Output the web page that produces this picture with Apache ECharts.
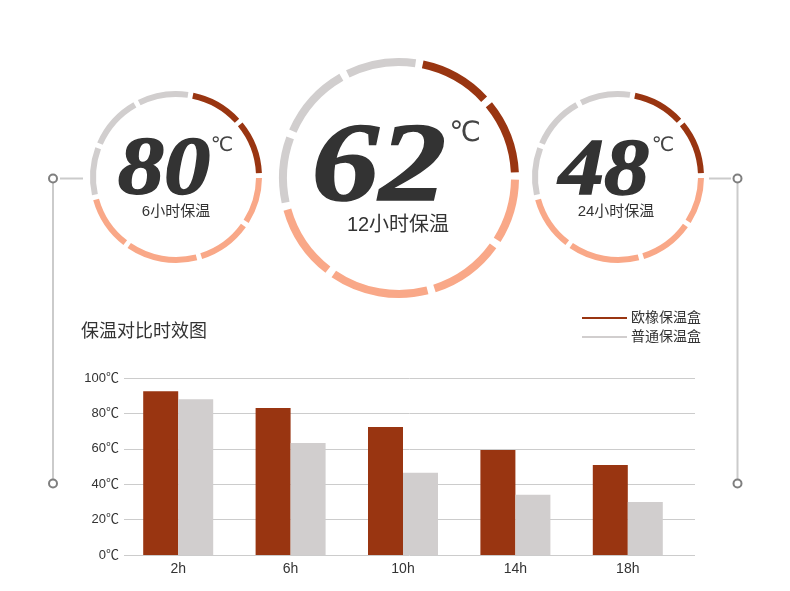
<!DOCTYPE html>
<html lang="zh">
<head>
    <meta charset="UTF-8">
    <title>保温对比时效图</title>
    <script src="https://cdn.jsdelivr.net/npm/echarts@6/dist/echarts.min.js"></script>
    <style>
        html, body { margin: 0; padding: 0; background: #fff; }
        #main { width: 790px; height: 591px; }
    </style>
</head>
<body>
<div id="main"></div>
<script type="text/javascript">
    // 柱状图数据
    var hours = ['2h', '6h', '10h', '14h', '18h'];
    var seriesNames = ['欧橡保温盒', '普通保温盒'];
    var ouxiangTemps = [92.5, 83, 72.3, 59.3, 50.9];
    var normalTemps = [88, 63.3, 46.4, 34, 30];
    var yTicks = [0, 20, 40, 60, 80, 100];

    // 顶部三个圆环
    var ringTemps = ['80', '62', '48'];
    var ringLabels = ['6小时保温', '12小时保温', '24小时保温'];
    // 每个圆环的分段角度（从顶部偏右10°起，顺时针）
    var ringSpans = [39, 40, 35, 40, 52, 40, 36, 40, 38];
    var ringKinds = ['dark', 'dark', 'light', 'light', 'light', 'light', 'gray', 'gray', 'gray'];

    var RED = '#993511';
    var SALMON = '#F9A888';
    var GRAY = '#D1CECE';
    var kindColor = { dark: RED, light: SALMON, gray: GRAY };
    var CJK = '"Liberation Sans", "Noto Sans CJK SC", sans-serif';

    // 圆环的位置和大小
    var rings = [
        { cx: 176, cy: 177, r: [80, 86], num: 82, sx: 1.13, numX: 164, numY: 172, deg: [222, 146, 20], sub: [176, 212, 15] },
        { cx: 399, cy: 178, r: [112, 120], num: 112, sx: 1.2, numX: 379, numY: 171.5, deg: [465, 134, 28], sub: [398, 225, 20] },
        { cx: 618, cy: 177, r: [80, 86], num: 80, sx: 1.13, numX: 604, numY: 173, deg: [663, 146, 20], sub: [616, 212, 15] }
    ];

    var chart = echarts.init(document.getElementById('main'));

    var ringSeries = [];
    var graphics = [];
    rings.forEach(function (rg, i) {
        ringSeries.push({
            type: 'pie',
            silent: true,
            center: [rg.cx, rg.cy],
            radius: rg.r,
            startAngle: 80,
            clockwise: true,
            padAngle: i === 1 ? 3.6 : 3.4,
            label: { show: false },
            labelLine: { show: false },
            emphasis: { disabled: true },
            data: ringSpans.map(function (v, k) {
                return { value: v, itemStyle: { color: kindColor[ringKinds[k]] } };
            })
        });
        graphics.push({
            type: 'text',
            x: rg.numX, y: rg.numY,
            scaleX: rg.sx,
            style: {
                text: ringTemps[i],
                fontFamily: '"Liberation Serif", serif',
                fontStyle: 'italic',
                fontWeight: 'bold',
                fontSize: rg.num,
                fill: '#333',
                stroke: '#333',
                lineWidth: 1.5,
                align: 'center',
                verticalAlign: 'middle'
            }
        });
        graphics.push({
            type: 'text',
            x: rg.deg[0], y: rg.deg[1],
            style: {
                text: '℃',
                fontFamily: '"DejaVu Sans", sans-serif',
                fontSize: rg.deg[2],
                fill: '#444',
                align: 'center',
                verticalAlign: 'middle'
            }
        });
        graphics.push({
            type: 'text',
            x: rg.sub[0], y: rg.sub[1],
            style: {
                text: ringLabels[i],
                fontFamily: CJK,
                fontSize: rg.sub[2],
                fill: '#333',
                align: 'center',
                verticalAlign: 'middle'
            }
        });
    });

    // 两侧的连接线
    var lineStyle = { stroke: '#CBCBCB', lineWidth: 2 };
    var dotStyle = { fill: '#fff', stroke: '#7F7F7F', lineWidth: 2 };
    [[53, 60, 83], [737.5, 709, 731]].forEach(function (s) {
        graphics.push({ type: 'line', shape: { x1: s[1], y1: 178.5, x2: s[2], y2: 178.5 }, style: lineStyle });
        graphics.push({ type: 'line', shape: { x1: s[0], y1: 183, x2: s[0], y2: 479 }, style: lineStyle });
        graphics.push({ type: 'circle', shape: { cx: s[0], cy: 178.5, r: 4 }, style: dotStyle });
        graphics.push({ type: 'circle', shape: { cx: s[0], cy: 483.5, r: 4 }, style: dotStyle });
    });

    var option = {
        backgroundColor: '#fff',
        animation: false,
        title: {
            text: '保温对比时效图',
            left: 76,
            top: 318,
            textStyle: { fontFamily: CJK, fontSize: 18, fontWeight: 'normal', color: '#333' }
        },
        legend: {
            data: seriesNames,
            orient: 'vertical',
            left: 577,
            top: 306,
            icon: 'rect',
            itemWidth: 45,
            itemHeight: 2,
            itemGap: 5,
            textStyle: { fontFamily: CJK, fontSize: 14, color: '#333', padding: [0, 0, 0, -1] }
        },
        grid: [
            { left: 124, right: 95, top: 378, bottom: 36 },
            { left: 122, right: 106, top: 378, bottom: 36 }
        ],
        xAxis: [
            { type: 'value', gridIndex: 0, show: false, min: 0, max: 1 },
            {
                type: 'category', gridIndex: 1, data: hours,
                axisLine: { show: false },
                axisTick: { show: false },
                axisLabel: { color: '#333', fontFamily: CJK, fontSize: 14, margin: 7 }
            }
        ],
        yAxis: [
            {
                type: 'value', gridIndex: 0, min: yTicks[0], max: yTicks[yTicks.length - 1], interval: 20,
                axisLine: { show: false },
                axisTick: { show: false },
                axisLabel: { color: '#333', fontFamily: CJK, fontSize: 13, margin: 5, formatter: '{value}℃' },
                splitLine: { lineStyle: { color: '#CCCCCC', width: 1 } }
            },
            { type: 'value', gridIndex: 1, show: false, min: 0, max: 100 }
        ],
        series: [
            {
                name: seriesNames[0], type: 'bar', xAxisIndex: 1, yAxisIndex: 1,
                barWidth: 35, barGap: '0%', itemStyle: { color: RED }, data: ouxiangTemps
            },
            {
                name: seriesNames[1], type: 'bar', xAxisIndex: 1, yAxisIndex: 1,
                barWidth: 35, barGap: '0%', itemStyle: { color: GRAY }, data: normalTemps
            }
        ].concat(ringSeries),
        graphic: graphics
    };
    chart.setOption(option);
</script>
</body>
</html>
